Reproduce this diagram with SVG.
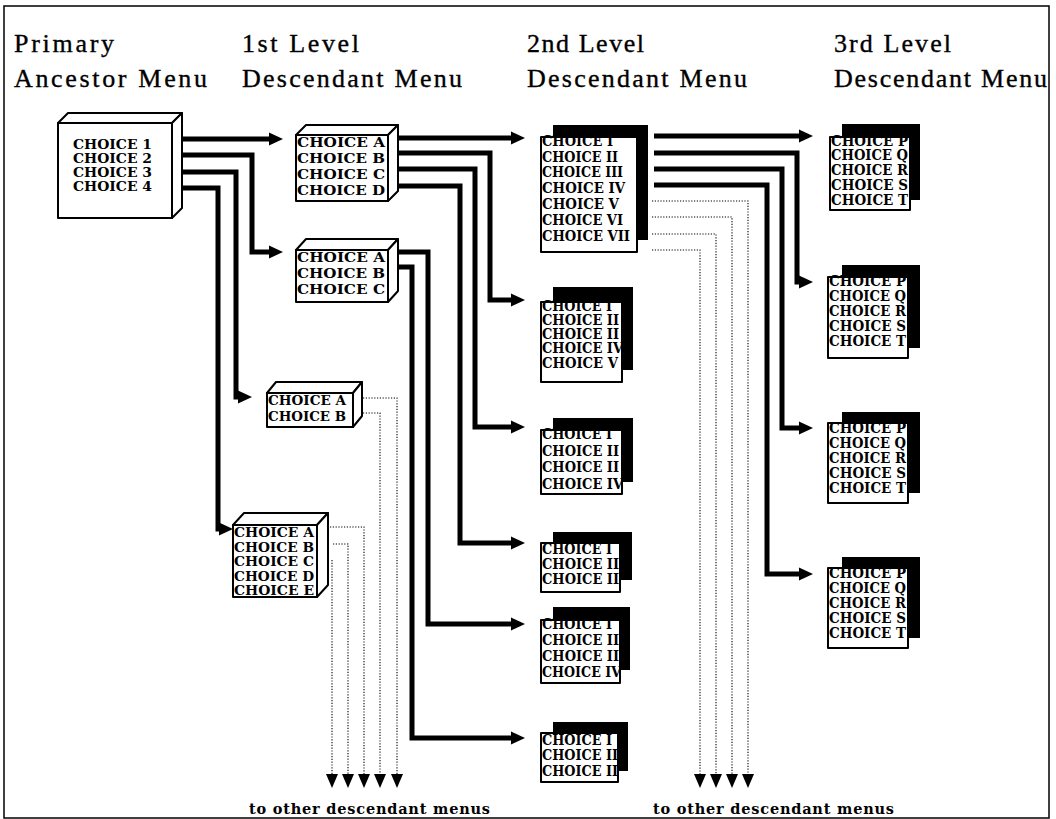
<svg xmlns="http://www.w3.org/2000/svg" width="1056" height="819" viewBox="0 0 1056 819">
<defs>
<style>
.frame{fill:none;stroke:#000;stroke-width:1.5}
.hdr{font-family:"Liberation Serif","DejaVu Serif",serif;font-size:26px;fill:#000;stroke:#000;stroke-width:0.35}
.f{fill:#fff;stroke:#000;stroke-width:2;stroke-linejoin:round}
.sh{fill:#000}
.t{font-family:"DejaVu Serif","Liberation Serif",serif;font-weight:bold;fill:#000}
.t1{font-size:13.5px}
.t2{font-size:13.8px}
.t3{font-size:14px}
.t4{font-size:12.5px}
.c{fill:none;stroke:#000;stroke-width:5;stroke-linejoin:miter}
.d{fill:none;stroke:#000;stroke-width:1.1;stroke-dasharray:1.2 1.6}
.bt{font-family:"DejaVu Serif","Liberation Serif",serif;font-weight:bold;font-size:14.5px;fill:#000}
</style>
<marker id="ah" markerUnits="userSpaceOnUse" viewBox="0 0 14 14" markerWidth="14" markerHeight="14" refX="1" refY="7" orient="auto"><path d="M0,0.5 L14,7 L0,13.5 z"/></marker>
<marker id="ad" markerUnits="userSpaceOnUse" viewBox="0 0 14 12" markerWidth="14" markerHeight="12" refX="0" refY="6" orient="auto"><path d="M0,0 L14,6 L0,12 z"/></marker>
</defs>
<rect class="frame" x="4" y="6" width="1045" height="812"/>
<g id="headers">
<text class="hdr" x="14" y="52" textLength="100">Primary</text>
<text class="hdr" x="14" y="87" textLength="193">Ancestor Menu</text>
<text class="hdr" x="242" y="52" textLength="117">1st Level</text>
<text class="hdr" x="242" y="87" textLength="220">Descendant Menu</text>
<text class="hdr" x="527" y="52" textLength="117">2nd Level</text>
<text class="hdr" x="527" y="87" textLength="220">Descendant Menu</text>
<text class="hdr" x="834" y="52" textLength="117">3rd Level</text>
<text class="hdr" x="834" y="87" textLength="213">Descendant Menu</text>
</g>
<g id="connectors">
<path class="c" marker-end="url(#ah)" d="M183 139 H270"/>
<path class="c" marker-end="url(#ah)" d="M183 155 H252 V252 H270"/>
<path class="c" marker-end="url(#ah)" d="M183 172 H236 V397 H239"/>
<path class="c" marker-end="url(#ah)" d="M183 188 H218 V529 H220"/>
<path class="c" marker-end="url(#ah)" d="M399 138 H512"/>
<path class="c" marker-end="url(#ah)" d="M399 153 H490 V300 H512"/>
<path class="c" marker-end="url(#ah)" d="M399 169 H475 V427 H512"/>
<path class="c" marker-end="url(#ah)" d="M399 186 H460 V543 H512"/>
<path class="c" marker-end="url(#ah)" d="M399 252 H428 V624 H512"/>
<path class="c" marker-end="url(#ah)" d="M399 267 H412 V738 H512"/>
<path class="c" marker-end="url(#ah)" d="M654 136 H800"/>
<path class="c" marker-end="url(#ah)" d="M654 153 H797 V282 H800"/>
<path class="c" marker-end="url(#ah)" d="M654 169 H782 V428 H800"/>
<path class="c" marker-end="url(#ah)" d="M654 185 H767 V574 H800"/>
<path class="d" marker-end="url(#ad)" d="M363 398 H397 V774"/>
<path class="d" marker-end="url(#ad)" d="M363 413 H380 V774"/>
<path class="d" marker-end="url(#ad)" d="M330 527 H364 V774"/>
<path class="d" marker-end="url(#ad)" d="M333 544 H348 V774"/>
<path class="d" marker-end="url(#ad)" d="M332 560 V774"/>
<path class="d" marker-end="url(#ad)" d="M652 201 H748 V774"/>
<path class="d" marker-end="url(#ad)" d="M652 217 H732 V774"/>
<path class="d" marker-end="url(#ad)" d="M652 234 H716 V774"/>
<path class="d" marker-end="url(#ad)" d="M652 250 H700 V774"/>
</g>
<g id="primary">
<polygon class="f" points="58,123 68,113 182,113 172,123"/>
<polygon class="f" points="172,123 182,113 182,208 172,218"/>
<rect class="f" x="58" y="123" width="114" height="95"/>
<text class="t t1" x="73" y="149" textLength="79" lengthAdjust="spacingAndGlyphs">CHOICE 1</text>
<text class="t t1" x="73" y="163" textLength="79" lengthAdjust="spacingAndGlyphs">CHOICE 2</text>
<text class="t t1" x="73" y="177" textLength="79" lengthAdjust="spacingAndGlyphs">CHOICE 3</text>
<text class="t t1" x="73" y="191" textLength="79" lengthAdjust="spacingAndGlyphs">CHOICE 4</text>
</g>
<g id="l1a">
<polygon class="f" points="296,135 306,125 398,125 388,135"/>
<polygon class="f" points="388,135 398,125 398,191 388,201"/>
<rect class="f" x="296" y="135" width="92" height="66"/>
<text class="t t2" x="297" y="147" textLength="88" lengthAdjust="spacingAndGlyphs">CHOICE A</text>
<text class="t t2" x="297" y="163" textLength="88" lengthAdjust="spacingAndGlyphs">CHOICE B</text>
<text class="t t2" x="297" y="179" textLength="88" lengthAdjust="spacingAndGlyphs">CHOICE C</text>
<text class="t t2" x="297" y="195" textLength="88" lengthAdjust="spacingAndGlyphs">CHOICE D</text>
</g>
<g id="l1b">
<polygon class="f" points="296,250 306,239 398,239 388,250"/>
<polygon class="f" points="388,250 398,239 398,291 388,302"/>
<rect class="f" x="296" y="250" width="92" height="52"/>
<text class="t t2" x="297" y="262" textLength="88" lengthAdjust="spacingAndGlyphs">CHOICE A</text>
<text class="t t2" x="297" y="278" textLength="88" lengthAdjust="spacingAndGlyphs">CHOICE B</text>
<text class="t t2" x="297" y="294" textLength="88" lengthAdjust="spacingAndGlyphs">CHOICE C</text>
</g>
<g id="l1c">
<polygon class="f" points="267,393 276,382 362,382 353,393"/>
<polygon class="f" points="353,393 362,382 362,416 353,427"/>
<rect class="f" x="267" y="393" width="86" height="34"/>
<text class="t t2" x="268" y="405" textLength="78" lengthAdjust="spacingAndGlyphs">CHOICE A</text>
<text class="t t2" x="268" y="421" textLength="78" lengthAdjust="spacingAndGlyphs">CHOICE B</text>
</g>
<g id="l1d">
<polygon class="f" points="233,525 244,513 328,513 317,525"/>
<polygon class="f" points="317,525 328,513 328,585 317,597"/>
<rect class="f" x="233" y="525" width="84" height="72"/>
<text class="t t4" x="234" y="537" textLength="80" lengthAdjust="spacingAndGlyphs">CHOICE A</text>
<text class="t t4" x="234" y="551.5" textLength="80" lengthAdjust="spacingAndGlyphs">CHOICE B</text>
<text class="t t4" x="234" y="566" textLength="80" lengthAdjust="spacingAndGlyphs">CHOICE C</text>
<text class="t t4" x="234" y="580.5" textLength="80" lengthAdjust="spacingAndGlyphs">CHOICE D</text>
<text class="t t4" x="234" y="595" textLength="80" lengthAdjust="spacingAndGlyphs">CHOICE E</text>
</g>
<g id="l2a">
<rect class="sh" x="553" y="125" width="95" height="115"/>
<rect class="f" x="541" y="137" width="96" height="115"/>
<text class="t t3" x="542" y="146" textLength="71" lengthAdjust="spacingAndGlyphs">CHOICE I</text>
<text class="t t3" x="542" y="162" textLength="76" lengthAdjust="spacingAndGlyphs">CHOICE II</text>
<text class="t t3" x="542" y="177" textLength="81" lengthAdjust="spacingAndGlyphs">CHOICE III</text>
<text class="t t3" x="542" y="193" textLength="83" lengthAdjust="spacingAndGlyphs">CHOICE IV</text>
<text class="t t3" x="542" y="209" textLength="77" lengthAdjust="spacingAndGlyphs">CHOICE V</text>
<text class="t t3" x="542" y="225" textLength="81" lengthAdjust="spacingAndGlyphs">CHOICE VI</text>
<text class="t t3" x="542" y="241" textLength="88" lengthAdjust="spacingAndGlyphs">CHOICE VII</text>
</g>
<g id="l2b">
<rect class="sh" x="553" y="287" width="80" height="83"/>
<rect class="f" x="541" y="302" width="81" height="80"/>
<text class="t t3" x="542" y="311" textLength="70" lengthAdjust="spacingAndGlyphs">CHOICE I</text>
<text class="t t3" x="542" y="325" textLength="77" lengthAdjust="spacingAndGlyphs">CHOICE II</text>
<text class="t t3" x="542" y="339" textLength="77" lengthAdjust="spacingAndGlyphs">CHOICE II</text>
<text class="t t3" x="542" y="353" textLength="81" lengthAdjust="spacingAndGlyphs">CHOICE IV</text>
<text class="t t3" x="542" y="368" textLength="76" lengthAdjust="spacingAndGlyphs">CHOICE V</text>
</g>
<g id="l2c">
<rect class="sh" x="553" y="418" width="80" height="64"/>
<rect class="f" x="541" y="430" width="81" height="64"/>
<text class="t t3" x="542" y="439" textLength="70" lengthAdjust="spacingAndGlyphs">CHOICE I</text>
<text class="t t3" x="542" y="456" textLength="77" lengthAdjust="spacingAndGlyphs">CHOICE II</text>
<text class="t t3" x="542" y="472" textLength="77" lengthAdjust="spacingAndGlyphs">CHOICE II</text>
<text class="t t3" x="542" y="489" textLength="81" lengthAdjust="spacingAndGlyphs">CHOICE IV</text>
</g>
<g id="l2d">
<rect class="sh" x="553" y="532" width="79" height="48"/>
<rect class="f" x="541" y="543" width="79" height="49"/>
<text class="t t3" x="542" y="554" textLength="70" lengthAdjust="spacingAndGlyphs">CHOICE I</text>
<text class="t t3" x="542" y="569" textLength="77" lengthAdjust="spacingAndGlyphs">CHOICE II</text>
<text class="t t3" x="542" y="584" textLength="77" lengthAdjust="spacingAndGlyphs">CHOICE II</text>
</g>
<g id="l2e">
<rect class="sh" x="553" y="607" width="77" height="63"/>
<rect class="f" x="541" y="620" width="79" height="63"/>
<text class="t t3" x="542" y="629" textLength="70" lengthAdjust="spacingAndGlyphs">CHOICE I</text>
<text class="t t3" x="542" y="645" textLength="77" lengthAdjust="spacingAndGlyphs">CHOICE II</text>
<text class="t t3" x="542" y="661" textLength="77" lengthAdjust="spacingAndGlyphs">CHOICE II</text>
<text class="t t3" x="542" y="677" textLength="79" lengthAdjust="spacingAndGlyphs">CHOICE IV</text>
</g>
<g id="l2f">
<rect class="sh" x="553" y="722" width="75" height="49"/>
<rect class="f" x="541" y="733" width="77" height="49"/>
<text class="t t3" x="542" y="745" textLength="70" lengthAdjust="spacingAndGlyphs">CHOICE I</text>
<text class="t t3" x="542" y="760" textLength="76" lengthAdjust="spacingAndGlyphs">CHOICE II</text>
<text class="t t3" x="542" y="776" textLength="76" lengthAdjust="spacingAndGlyphs">CHOICE II</text>
</g>
<g id="l3a">
<rect class="sh" x="842" y="124" width="78" height="76"/>
<rect class="f" x="830" y="137" width="80" height="73"/>
<text class="t t3" x="831" y="146" textLength="77" lengthAdjust="spacingAndGlyphs">CHOICE P</text>
<text class="t t3" x="831" y="160" textLength="77" lengthAdjust="spacingAndGlyphs">CHOICE Q</text>
<text class="t t3" x="831" y="175" textLength="77" lengthAdjust="spacingAndGlyphs">CHOICE R</text>
<text class="t t3" x="831" y="190" textLength="77" lengthAdjust="spacingAndGlyphs">CHOICE S</text>
<text class="t t3" x="831" y="205" textLength="77" lengthAdjust="spacingAndGlyphs">CHOICE T</text>
</g>
<g id="l3b">
<rect class="sh" x="842" y="265" width="78" height="83"/>
<rect class="f" x="828" y="277" width="80" height="81"/>
<text class="t t3" x="829" y="286" textLength="77" lengthAdjust="spacingAndGlyphs">CHOICE P</text>
<text class="t t3" x="829" y="301" textLength="77" lengthAdjust="spacingAndGlyphs">CHOICE Q</text>
<text class="t t3" x="829" y="316" textLength="77" lengthAdjust="spacingAndGlyphs">CHOICE R</text>
<text class="t t3" x="829" y="331" textLength="77" lengthAdjust="spacingAndGlyphs">CHOICE S</text>
<text class="t t3" x="829" y="346" textLength="77" lengthAdjust="spacingAndGlyphs">CHOICE T</text>
</g>
<g id="l3c">
<rect class="sh" x="842" y="412" width="78" height="81"/>
<rect class="f" x="828" y="423" width="80" height="80"/>
<text class="t t3" x="829" y="433" textLength="77" lengthAdjust="spacingAndGlyphs">CHOICE P</text>
<text class="t t3" x="829" y="448" textLength="77" lengthAdjust="spacingAndGlyphs">CHOICE Q</text>
<text class="t t3" x="829" y="463" textLength="77" lengthAdjust="spacingAndGlyphs">CHOICE R</text>
<text class="t t3" x="829" y="478" textLength="77" lengthAdjust="spacingAndGlyphs">CHOICE S</text>
<text class="t t3" x="829" y="493" textLength="77" lengthAdjust="spacingAndGlyphs">CHOICE T</text>
</g>
<g id="l3d">
<rect class="sh" x="842" y="557" width="78" height="81"/>
<rect class="f" x="828" y="568" width="80" height="80"/>
<text class="t t3" x="829" y="578" textLength="77" lengthAdjust="spacingAndGlyphs">CHOICE P</text>
<text class="t t3" x="829" y="593" textLength="77" lengthAdjust="spacingAndGlyphs">CHOICE Q</text>
<text class="t t3" x="829" y="608" textLength="77" lengthAdjust="spacingAndGlyphs">CHOICE R</text>
<text class="t t3" x="829" y="623" textLength="77" lengthAdjust="spacingAndGlyphs">CHOICE S</text>
<text class="t t3" x="829" y="638" textLength="77" lengthAdjust="spacingAndGlyphs">CHOICE T</text>
</g>
<g id="footer">
<text class="bt" x="249" y="814" textLength="241">to other  descendant menus</text>
<text class="bt" x="653" y="814" textLength="241">to other  descendant menus</text>
</g>
</svg>
